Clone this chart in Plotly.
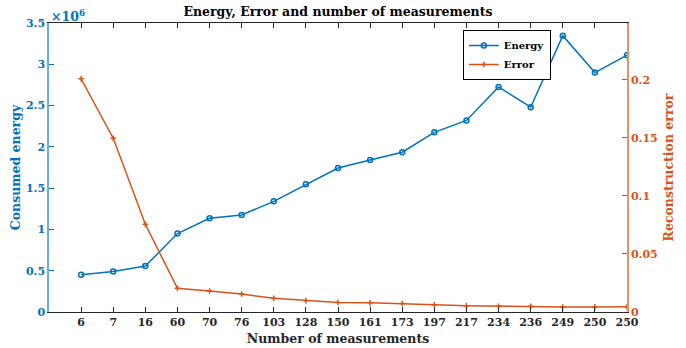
import plotly.graph_objects as go

measurements = ["6", "7", "16", "60", "70", "76", "103", "128", "150", "161",
                "173", "197", "217", "234", "236", "249", "250", "250"]
energy = [0.45e6, 0.49e6, 0.556e6, 0.95e6, 1.135e6, 1.175e6, 1.34e6, 1.546e6,
          1.744e6, 1.84e6, 1.935e6, 2.176e6, 2.32e6, 2.725e6, 2.48e6, 3.346e6,
          2.90e6, 3.11e6]
error = [0.2009, 0.1497, 0.0756, 0.0204, 0.0181, 0.0155, 0.0118, 0.0098,
         0.0082, 0.0079, 0.0073, 0.0063, 0.0054, 0.0049, 0.0050, 0.0043,
         0.0044, 0.0045]
energy_ticks = [0, 0.5e6, 1e6, 1.5e6, 2e6, 2.5e6, 3e6, 3.5e6]
energy_ticklabels = ["0", "0.5", "1", "1.5", "2", "2.5", "3", "3.5"]
error_ticks = [0, 0.05, 0.1, 0.15, 0.2]
error_ticklabels = ["0", "0.05", "0.1", "0.15", "0.2"]

BLUE = "#0072BD"
ORANGE = "#D95319"
FONT = "DejaVu Serif"


def bold(labels):
    return ["<b>%s</b>" % s for s in labels]


xpos = list(range(1, len(measurements) + 1))

fig = go.Figure()
fig.add_trace(go.Scatter(
    x=xpos, y=energy, name="<b>Energy</b>", mode="lines+markers",
    line=dict(color=BLUE, width=1.5),
    marker=dict(symbol="circle-open", size=5, color=BLUE, line=dict(width=1.5)),
    yaxis="y"))
fig.add_trace(go.Scatter(
    x=xpos, y=error, name="<b>Error</b>", mode="lines+markers",
    line=dict(color=ORANGE, width=1.5),
    marker=dict(symbol="cross-thin-open", size=4, color=ORANGE, line=dict(width=1.5, color=ORANGE)),
    yaxis="y2"))

fig.update_layout(
    width=686, height=348,
    margin=dict(l=49, r=59, t=23, b=36),
    plot_bgcolor="white", paper_bgcolor="white",
    font=dict(family=FONT, size=11, color="#262626"),
    showlegend=True,
    title=dict(text="<b>Energy, Error and number of measurements</b>",
               x=(49 + 627) / 2 / 686, xanchor="center", y=1 - 12 / 348, yanchor="middle",
               font=dict(family=FONT, size=12.5, color="black")),
    legend=dict(x=0.716, y=0.976, xanchor="left", yanchor="top",
                bgcolor="white", bordercolor="black", borderwidth=1,
                font=dict(family=FONT, size=10, color="black"),
                itemwidth=30, tracegroupgap=0),
    xaxis=dict(range=[0, len(measurements)], tickvals=xpos, ticktext=bold(measurements),
               ticks="inside", ticklen=5, tickcolor="#262626", showgrid=False,
               zeroline=False, showline=True, linecolor="#262626", linewidth=1,
               mirror="ticks", automargin=False,
               tickfont=dict(family=FONT, size=11, color="#262626"),
               title=dict(text="<b>Number of measurements</b>", standoff=6,
                          font=dict(family=FONT, size=12.5, color="#262626"))),
    yaxis=dict(range=[0, 3.5e6], tickvals=energy_ticks, ticktext=bold(energy_ticklabels),
               ticks="inside", ticklen=5, tickcolor=BLUE, showgrid=False,
               zeroline=False, showline=True, linecolor="#6AAEDF", linewidth=1.5,
               automargin=False,
               tickfont=dict(family=FONT, size=11, color=BLUE),
               title=dict(text="<b>Consumed energy</b>", standoff=3,
                          font=dict(family=FONT, size=12.5, color=BLUE))),
    yaxis2=dict(range=[0, 0.249], tickvals=error_ticks, ticktext=bold(error_ticklabels),
                overlaying="y", side="right", anchor="x",
                ticks="inside", ticklen=5, tickcolor=ORANGE, showgrid=False,
                zeroline=False, showline=True, linecolor="#E8906A", linewidth=1.5,
                automargin=False,
                tickfont=dict(family=FONT, size=11, color=ORANGE),
                title=dict(text="<b>Reconstruction error</b>", standoff=8,
                           font=dict(family=FONT, size=12.5, color=ORANGE))),
)

fig.add_annotation(text="<b>×10<sup>6</sup></b>", xref="paper", yref="paper",
                   x=0, y=1, xanchor="left", yanchor="bottom", showarrow=False,
                   font=dict(family=FONT, size=12.5, color=BLUE), yshift=-3)

fig.write_html("out.html")
